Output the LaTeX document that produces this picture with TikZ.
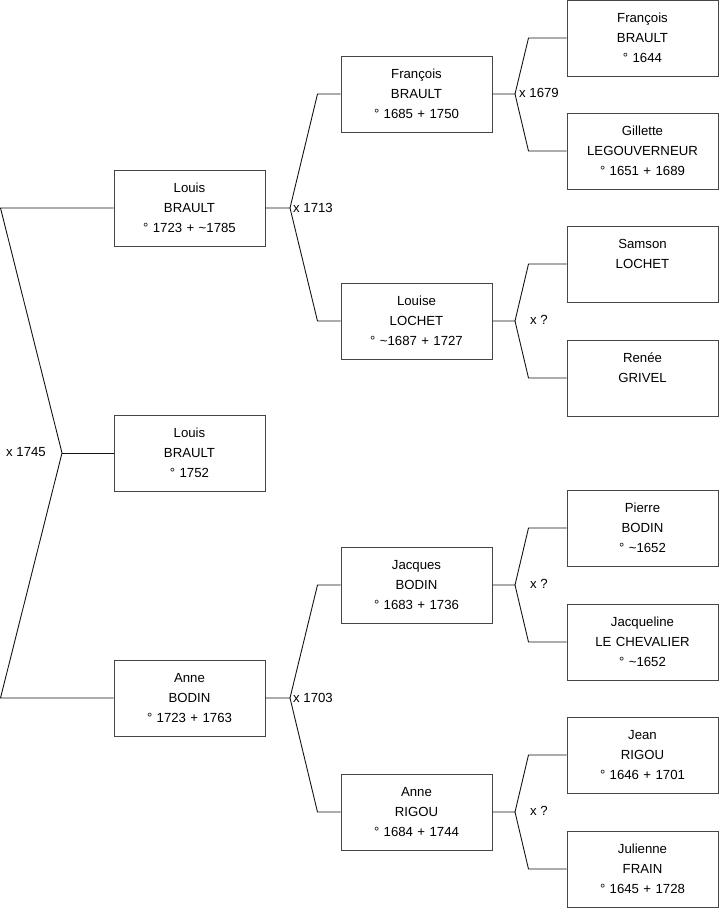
\documentclass[tikz,border=0pt]{standalone}
\usepackage{fontspec}
\setmainfont{Liberation Sans}
\usetikzlibrary{calc}
\definecolor{boxline}{RGB}{70,70,70}
\definecolor{linkc}{RGB}{20,20,20}
\tikzset{
  person/.style={draw=boxline, line width=1pt, minimum width=151pt,
    minimum height=76pt, inner sep=0pt, text width=151pt, align=center,
    font=\fontsize{13.2}{20}\selectfont},
  link/.style={draw=linkc, line width=0.9pt},
  union/.style={inner sep=0pt, font=\fontsize{13.2}{15}\selectfont},
}
% child -> joint -> father / mother, #5 = gap before the parents' boxes
\newcommand{\couple}[5]{%
  \draw[link] (#1.east) -- (#2) -- ($(#3.west)+(-#5,0)$) -- (#3.west);
  \draw[link] (#2) -- ($(#4.west)+(-#5,0)$) -- (#4.west);}
\newcommand{\dt}{\textasciitilde}

\begin{document}
\begin{tikzpicture}[x=1pt, y=-1pt]
  \useasboundingbox (0,0) rectangle (719,908);
  % children
  \node[person] (louis)   at (189.5,208) {Louis\\BRAULT\\° 1723 + \dt1785};
  \node[person] (louisjr) at (189.5,453) {Louis\\BRAULT\\° 1752};
  \node[person] (anne)    at (189.5,698) {Anne\\BODIN\\° 1723 + 1763};
  % parents
  \node[person] (francois)  at (416.5,94)  {François\\BRAULT\\° 1685 + 1750};
  \node[person] (louise)    at (416.5,321) {Louise\\LOCHET\\° \dt1687 + 1727};
  \node[person] (jacques)   at (416.5,585) {Jacques\\BODIN\\° 1683 + 1736};
  \node[person] (annerigou) at (416.5,812) {Anne\\RIGOU\\° 1684 + 1744};
  % grandparents
  \node[person] (francoisp)  at (642.5,38)  {François\\BRAULT\\° 1644};
  \node[person] (gillette)   at (642.5,151) {Gillette\\LEGOUVERNEUR\\° 1651 + 1689};
  \node[person] (samson)     at (642.5,264) {Samson\\LOCHET\\\mbox{}};
  \node[person] (renee)      at (642.5,378) {Renée\\GRIVEL\\\mbox{}};
  \node[person] (pierre)     at (642.5,528) {Pierre\\BODIN\\° \dt1652};
  \node[person] (jacqueline) at (642.5,642) {Jacqueline\\LE CHEVALIER\\° \dt1652};
  \node[person] (jean)       at (642.5,755) {Jean\\RIGOU\\° 1646 + 1701};
  \node[person] (julienne)   at (642.5,869) {Julienne\\FRAIN\\° 1645 + 1728};

  % siblings fork
  \coordinate (rtop)  at (0.5,208);
  \coordinate (rbot)  at (0.5,698);
  \coordinate (jroot) at (62,453);
  \draw[link] (louis.west) -- (rtop) -- (jroot) -- (rbot) -- (anne.west);
  \draw[link] (jroot) -- (louisjr.west);
  \node[union, anchor=east] (m1745) at (46,452) {x 1745};

  % marriages
  \coordinate (jlouis) at (290,208);
  \coordinate (janne)  at (290,698);
  \couple{louis}{jlouis}{francois}{louise}{23}
  \couple{anne}{janne}{jacques}{annerigou}{23}
  \node[union, anchor=west] (m1713) at (293,208) {x 1713};
  \node[union, anchor=west] (m1703) at (293,698) {x 1703};

  \coordinate (jfrancois)  at (515,94);
  \coordinate (jlouise)    at (515,321);
  \coordinate (jjacques)   at (515,585);
  \coordinate (jannerigou) at (515,812);
  \couple{francois}{jfrancois}{francoisp}{gillette}{38}
  \couple{louise}{jlouise}{samson}{renee}{38}
  \couple{jacques}{jjacques}{pierre}{jacqueline}{38}
  \couple{annerigou}{jannerigou}{jean}{julienne}{38}
  \node[union, anchor=west] (m1679) at (519,93)  {x 1679};
  \node[union, anchor=west] (mlouise)  at (530,320) {x ?};
  \node[union, anchor=west] (mjacques) at (530,584) {x ?};
  \node[union, anchor=west] (mrigou)   at (530,811) {x ?};
\end{tikzpicture}
\end{document}
